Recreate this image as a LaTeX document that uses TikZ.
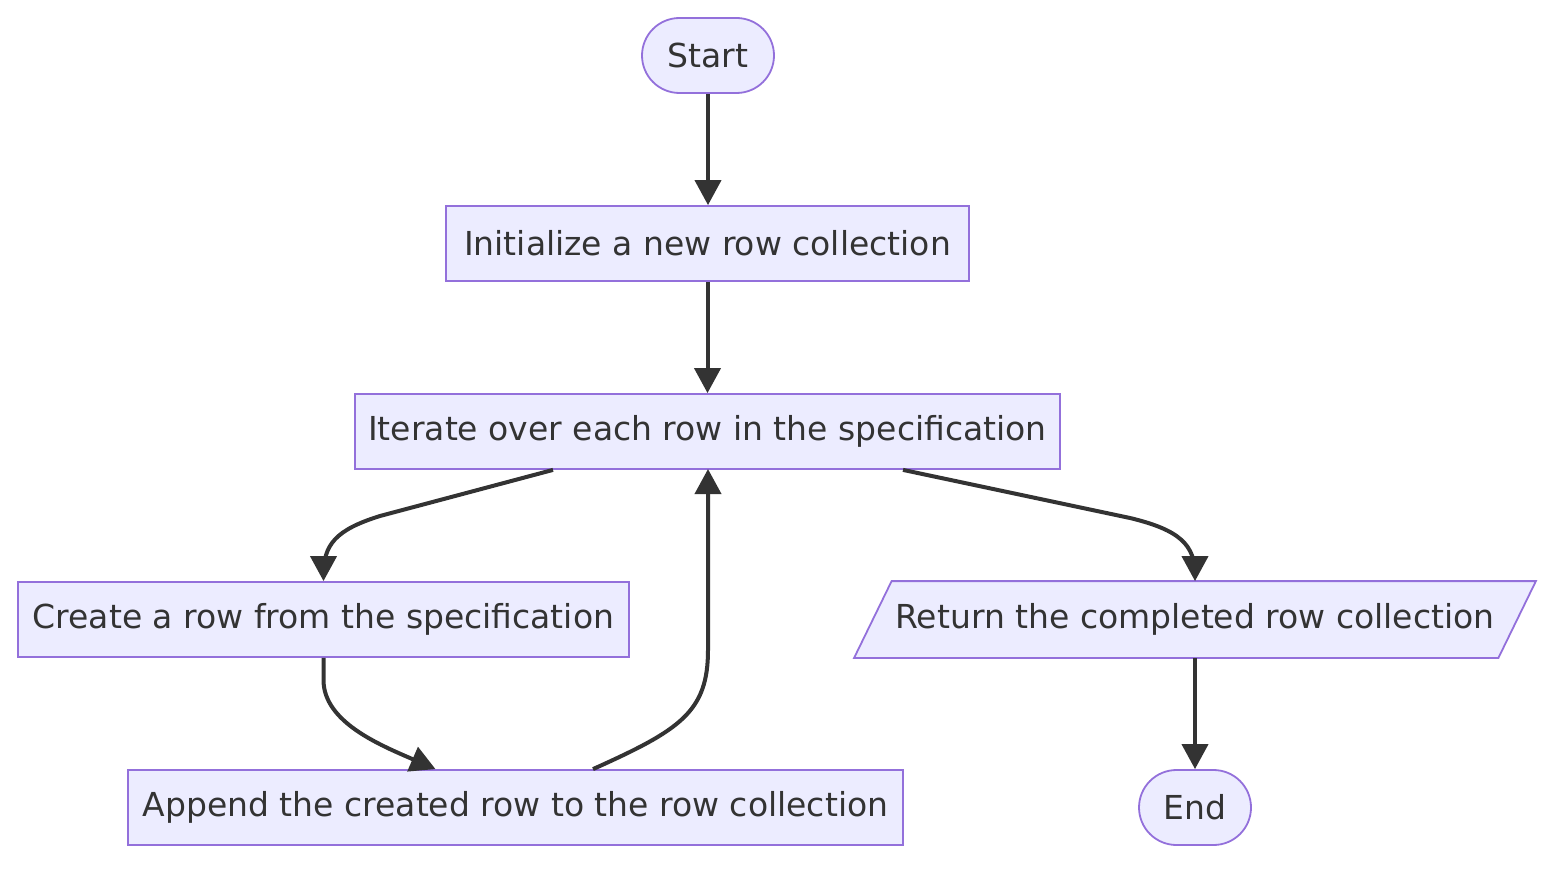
\documentclass[tikz,border=0pt]{standalone}
\usepackage{fontspec}
\setmainfont{DejaVu Sans}
\usetikzlibrary{arrows.meta,backgrounds}
\definecolor{nodefill}{HTML}{ECECFF}
\definecolor{nodeline}{HTML}{9370DB}
\definecolor{ink}{HTML}{333333}
\tikzset{
  box/.style={draw=nodeline, fill=nodefill, line width=1.8pt, minimum height=75pt, inner sep=0pt, text=ink, font=\fontsize{33}{39}\selectfont},
  stadium/.style={box, rounded corners=37.5pt},
  leantext/.style={box, draw=none, fill=none},
  leanshape/.style={draw=nodeline, fill=nodefill, line width=1.8pt},
  flow/.style={draw=ink, line width=4pt, -{Triangle[length=25pt,width=26pt]}}
}
\begin{document}
\begin{tikzpicture}[x=1pt,y=-1pt]
\useasboundingbox (0,0) rectangle (1568,872);
\node[stadium, minimum width=132pt] (start) at (708,55.5) {Start};
\node[box, minimum width=523pt] (init) at (707.5,243.5) {Initialize a new row collection};
\node[box, minimum width=705pt] (iter) at (707.5,431.5) {Iterate over each row in the specification};
\node[box, minimum width=611pt] (create) at (323.5,619.5) {Create a row from the specification};
\node[leantext, minimum width=642.5pt] (ret) at (1195,619.5) {Return the completed row collection};
\begin{scope}[on background layer]
\draw[leanshape] ([xshift=-18.75pt]ret.south west) -- ([xshift=-18.75pt]ret.south east) -- ([xshift=18.75pt]ret.north east) -- ([xshift=18.75pt]ret.north west) -- cycle;
\end{scope}
\node[box, minimum width=775pt] (append) at (515.5,807.5) {Append the created row to the row collection};
\node[stadium, minimum width=112pt] (endn) at (1195,807.5) {End};

\draw[flow] (start.south) -- (start.south |- init.north);
\draw[flow] (init.south) -- (init.south |- iter.north);
\draw[flow] ([xshift=-154.5pt]iter.south) -- (380,516) .. controls (335,530) and (323.5,545) .. (323.5,575) -- (create.north);
\draw[flow] ([xshift=195.5pt]iter.south) -- (1130,518) .. controls (1180,530) and (1195,545) .. (1195,575) -- (ret.north);
\draw[flow] (create.south) -- (323.5,680) .. controls (323.5,722) and (380,745) .. ([xshift=-80pt]append.north);
\draw[flow] ([xshift=77.5pt]append.north) .. controls (680,730) and (708,712) .. (708,650) -- (708,469);
\draw[flow] (ret.south) -- (endn.north);
\end{tikzpicture}
\end{document}
